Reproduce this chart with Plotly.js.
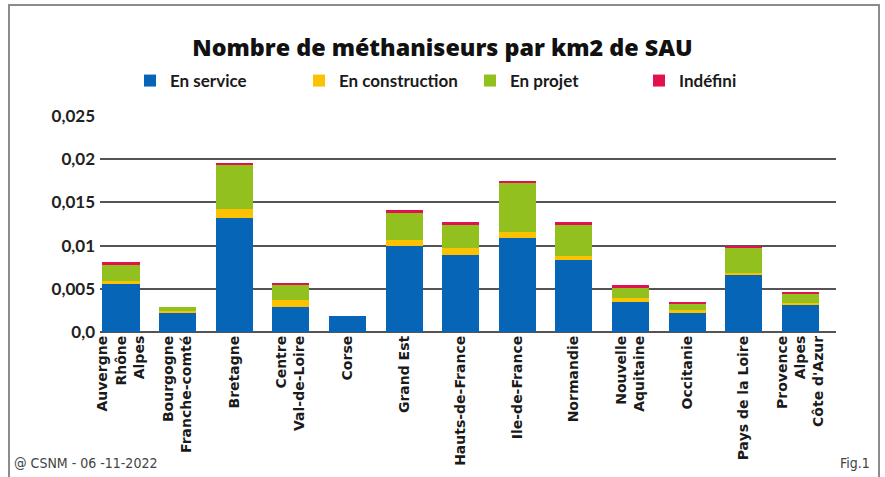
<!DOCTYPE html>
<html>
<head>
<meta charset="utf-8">
<script src="https://cdn.plot.ly/plotly-3.0.1.min.js"></script>
<style>html,body{margin:0;padding:0;background:#fff;}#chart{width:885px;height:477px;}</style>
</head>
<body>
<div id="chart"></div>
<script>
const regions = ["Auvergne<br>Rhône<br>Alpes", "Bourgogne<br>Franche-comté", "Bretagne", "Centre<br>Val-de-Loire", "Corse", "Grand Est", "Hauts-de-France", "Ile-de-France", "Normandie", "Nouvelle<br>Aquitaine", "Occitanie", "Pays de la Loire", "Provence<br>Alpes<br>Côte d'Azur"];
const enService      = [0.0055, 0.0023, 0.0132, 0.0029, 0.0018, 0.0099, 0.0089, 0.0109, 0.0083, 0.0035, 0.0023, 0.0067, 0.0032];
const enConstruction = [0.0004, 0.0001, 0.0010, 0.0008, 0.0000, 0.0007, 0.0008, 0.0007, 0.0005, 0.0004, 0.0002, 0.0001, 0.0001];
const enProjet       = [0.0019, 0.0005, 0.0052, 0.0017, 0.0000, 0.0032, 0.0027, 0.0057, 0.0036, 0.0012, 0.0008, 0.0030, 0.0011];
const indefini       = [0.00035, 0.0000, 0.0002, 0.0003, 0.0000, 0.0003, 0.0003, 0.0002, 0.0003, 0.0003, 0.0002, 0.0002, 0.0002];
const seriesNames = ["En service", "En construction", "En projet", "Indéfini"];
const tickVals = [0, 0.005, 0.01, 0.015, 0.02, 0.025];
const tickText = ["0,0", "0,005", "0,01", "0,015", "0,02", "0,025"];
const titleText = "Nombre de méthaniseurs par km2 de SAU";
const footerLeft = "@ CSNM - 06 -11-2022";
const footerRight = "Fig.1";

const colors = ["#0765b8", "#fcc200", "#92c01e", "#e3114f"];
const seriesData = [enService, enConstruction, enProjet, indefini];
const legendIds = ["legend", "legend2", "legend3", "legend4"];

const traces = seriesData.map((vals, i) => ({
  type: "bar",
  x: regions,
  y: vals,
  name: seriesNames[i],
  marker: {color: colors[i], line: {width: 0}},
  legend: legendIds[i],
  hoverinfo: "x+y+name"
}));

const legendTextX = [170, 339, 510, 679];
const legendFont = {family: "Lato, 'Open Sans', sans-serif", size: 17, weight: "bold", color: "#1a1a1a"};
function mkLegend(px) {
  return {
    xref: "container", yref: "container",
    x: (px - 40) / 885, y: 1 - 81 / 477,
    xanchor: "left", yanchor: "middle",
    orientation: "h",
    font: legendFont,
    bgcolor: "rgba(0,0,0,0)",
    borderwidth: 0,
    itemclick: false, itemdoubleclick: false
  };
}

const L = 100, R = 49, T = 116, B = 145;
const pw = 885 - L - R, ph = 477 - T - B;
const px2x = px => (px - L) / pw;
const py2y = py => (477 - B - py) / ph;

const layout = {
  width: 885, height: 477,
  margin: {l: L, r: R, t: T, b: B, pad: 0},
  paper_bgcolor: "#ffffff",
  plot_bgcolor: "#ffffff",
  barmode: "stack",
  bargap: 0.346,
  title: {
    text: titleText,
    font: {family: "'Open Sans', Lato, sans-serif", size: 23.3, weight: 800, color: "#111"},
    x: 0.5, xanchor: "center", xref: "container",
    y: 1 - 47.5 / 477, yanchor: "middle", yref: "container"
  },
  showlegend: true,
  legend: mkLegend(legendTextX[0]),
  legend2: mkLegend(legendTextX[1]),
  legend3: mkLegend(legendTextX[2]),
  legend4: mkLegend(legendTextX[3]),
  xaxis: {
    type: "category",
    range: [-0.371, 12.63],
    tickangle: -90,
    ticks: "",
    showgrid: false,
    showline: false,
    zeroline: false,
    tickfont: {family: "'DejaVu Sans', Roboto, sans-serif", size: 14, weight: "bold", color: "#1a1a1a"},
    automargin: false
  },
  yaxis: {
    range: [0, 0.025],
    tickvals: tickVals,
    ticktext: tickText,
    ticks: "",
    showgrid: true,
    gridcolor: "#545454",
    gridwidth: 2,
    zeroline: true,
    zerolinecolor: "#545454",
    zerolinewidth: 2,
    showline: false,
    tickfont: {family: "Lato, 'Open Sans', sans-serif", size: 17, weight: "bold", color: "#222"},
    ticklabelstandoff: 4,
    automargin: false
  },
  shapes: [{
    type: "rect", xref: "paper", yref: "paper",
    x0: px2x(9), x1: px2x(879), y0: py2y(479), y1: py2y(5),
    line: {color: "#8c8c8c", width: 2},
    fillcolor: "rgba(0,0,0,0)",
    layer: "above"
  }],
  annotations: [
    {
      text: footerLeft, xref: "paper", yref: "paper",
      x: px2x(12), y: py2y(463), xanchor: "left", yanchor: "middle",
      showarrow: false,
      font: {family: "'Liberation Sans Narrow', 'DejaVu Sans Condensed', sans-serif", size: 14, color: "#444"}
    },
    {
      text: footerRight, xref: "paper", yref: "paper",
      x: px2x(872), y: py2y(463), xanchor: "right", yanchor: "middle",
      showarrow: false,
      font: {family: "'Liberation Sans Narrow', 'DejaVu Sans Condensed', sans-serif", size: 14, color: "#444"}
    }
  ]
};

Plotly.newPlot("chart", traces, layout, {displayModeBar: false, staticPlot: false});
</script>
</body>
</html>
